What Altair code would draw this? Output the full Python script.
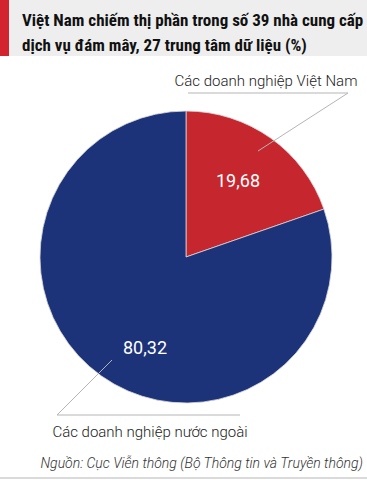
import altair as alt
import pandas as pd

categories = ["Các doanh nghiệp Việt Nam", "Các doanh nghiệp nước ngoài"]
values = [19.68, 80.32]
value_labels = ["19,68", "80,32"]
colors = ["#c6262e", "#1c3279"]
title_lines = ["Việt Nam chiếm thị phần trong số 39 nhà cung cấp",
               "dịch vụ đám mây, 27 trung tâm dữ liệu (%)"]
source = "Nguồn: Cục Viễn thông (Bộ Thông tin và Truyền thông)"

df = pd.DataFrame({"cat": categories, "value": values, "label": value_labels,
                   "idx": list(range(len(categories)))})
one = pd.DataFrame({"a": [0]})

CX, CY, R = 186, 257, 146

pie = alt.Chart(df).mark_arc(outerRadius=R, stroke="#d8d8d8", strokeWidth=0.8).encode(
    theta=alt.Theta("value:Q", stack=True),
    order=alt.Order("idx:Q"),
    color=alt.Color("cat:N", scale=alt.Scale(domain=categories, range=colors), legend=None),
    x=alt.value(CX), y=alt.value(CY),
)

band = alt.Chart(one).mark_rect(color="#eeeeee").encode(
    x=alt.value(0), x2=alt.value(367), y=alt.value(0), y2=alt.value(56))
redbar = alt.Chart(one).mark_rect(color="#d2232e").encode(
    x=alt.value(0), x2=alt.value(9), y=alt.value(0), y2=alt.value(56))

def txt(text, x, y, size, **kw):
    return alt.Chart(one).mark_text(text=text, fontSize=size, baseline="alphabetic", **kw).encode(
        x=alt.value(x), y=alt.value(y))

TF = "Roboto Condensed, DejaVu Sans Condensed, sans-serif"
t1 = txt(title_lines[0], 22, 26, 17, align="left", font=TF,
         fontWeight="bold", color="#111111")
t2 = txt(title_lines[1], 22, 51, 17, align="left", font=TF,
         fontWeight="bold", color="#111111")

def leader(x1, y1, x2, y2):
    return alt.Chart(one).mark_rule(color="#b5b5b5", strokeWidth=1).encode(
        x=alt.value(x1), y=alt.value(y1), x2=alt.value(x2), y2=alt.value(y2))

l1a = leader(258, 151, 348, 93)
l1b = leader(188, 93, 348, 93)
l2a = leader(112, 360, 57, 415)
l2b = leader(57, 415, 240, 415)

lab1 = txt(categories[0], 266, 86, 15, align="center", font="Roboto", fontWeight=300, color="#222222")
lab2 = txt(categories[1], 150, 437, 15, align="center", font="Roboto", fontWeight=300, color="#222222")

v1 = txt(value_labels[0], 238, 187, 18, align="center", font="Roboto", color="white")
v2 = txt(value_labels[1], 145, 354, 18, align="center", font="Roboto", color="white")

src = txt(source, 363, 468, 14, align="right", font="Roboto", fontStyle="italic",
          fontWeight=300, color="#333333")
bottom = leader(0, 478, 367, 478)

chart = alt.layer(band, redbar, t1, t2, pie, l1a, l1b, l2a, l2b, lab1, lab2, v1, v2, src, bottom).properties(
    width=367, height=480, padding=0, autosize=alt.AutoSizeParams(type="none"),
    background="white"
).configure_view(stroke=None)

chart.save("out.html", embed_options={"renderer": "svg", "actions": False})
